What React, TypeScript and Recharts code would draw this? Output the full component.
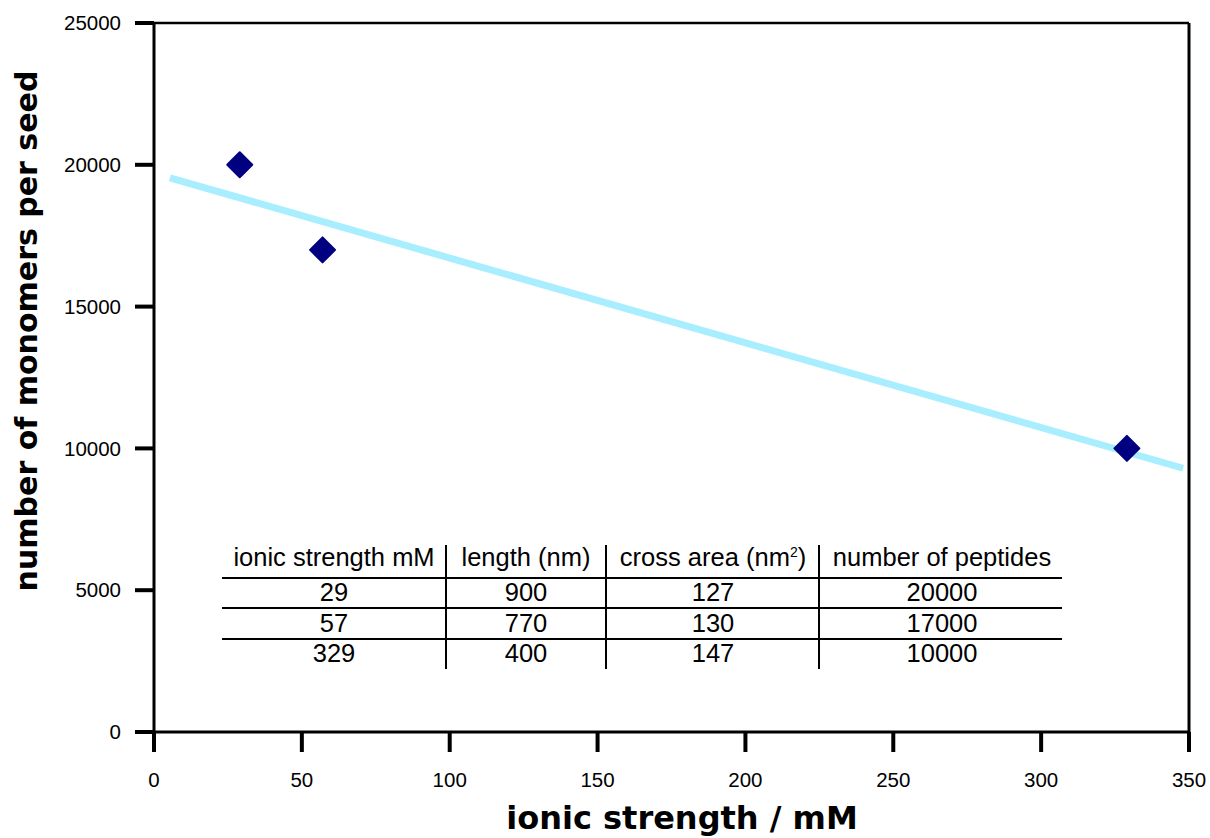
import React from "react";
import {
  ComposedChart,
  Scatter,
  XAxis,
  YAxis,
  ReferenceLine,
} from "recharts";

// ---- data ----
const ionicStrength = [29, 57, 329];
const monomersPerSeed = [20000, 17000, 10000];
const trendX = [5.4, 348];
const trendY = [19540, 9300];
const xTicks = [0, 50, 100, 150, 200, 250, 300, 350];
const yTicks = [0, 5000, 10000, 15000, 20000, 25000];

const tableHeaders = ["ionic strength mM", "length (nm)", "cross area (nm", "number of peptides"];
const tableIonic = ["29", "57", "329"];
const tableLength = ["900", "770", "400"];
const tableCross = ["127", "130", "147"];
const tablePeptides = ["20000", "17000", "10000"];

const xTitle = "ionic strength / mM";
const yTitle = "number of monomers per seed";

const points = ionicStrength.map((x, i) => ({ x, y: monomersPerSeed[i] }));

const NAVY = "#000080";
const CYAN = "#a8eefe";
const TICK_FONT = "'Liberation Sans', Arial, sans-serif";
const TITLE_FONT = "'DejaVu Sans', Verdana, sans-serif";

const Diamond = (props: any) => {
  const { cx, cy } = props;
  if (cx == null || cy == null) return null;
  const r = 12.5;
  const d = `M${cx},${cy - r} L${cx + r},${cy} L${cx},${cy + r} L${cx - r},${cy} Z`;
  return <path d={d} fill={NAVY} stroke={NAVY} strokeWidth={2} strokeLinejoin="round" />;
};

const W = 1210;
const H = 838;

const TableOverlay = () => {
  const left = 222;
  const right = 1062;
  const vLines = [446, 606, 819];
  const colCenters = [334, 526, 713, 942];
  const hLines = [578, 608, 639];
  const headerBaseline = 566;
  const rowBaselines = [601, 632, 662];
  const cols = [tableIonic, tableLength, tableCross, tablePeptides];
  const fs = 25.5;
  return (
    <g fontFamily={TICK_FONT} fontSize={fs} fill="#000">
      {hLines.map((y, i) => (
        <line key={"h" + i} x1={left} x2={right} y1={y} y2={y} stroke="#000" strokeWidth={2} />
      ))}
      {vLines.map((x, i) => (
        <line key={"v" + i} x1={x} x2={x} y1={545} y2={669} stroke="#000" strokeWidth={2} />
      ))}
      {tableHeaders.map((h, i) => (
        <text key={"t" + i} x={colCenters[i]} y={headerBaseline} textAnchor="middle">
          {i === 2 ? (
            <>
              {h}
              <tspan fontSize={14} dy={-9}>2</tspan>
              <tspan dy={9}>)</tspan>
            </>
          ) : (
            h
          )}
        </text>
      ))}
      {cols.map((col, c) =>
        col.map((v, r) => (
          <text key={`c${c}r${r}`} x={colCenters[c]} y={rowBaselines[r]} textAnchor="middle">
            {v}
          </text>
        ))
      )}
    </g>
  );
};

export default function App() {
  return (
    <div style={{ position: "absolute", left: 0, top: 0, width: W, height: H, background: "#fff" }}>
      <ComposedChart
        width={W}
        height={H}
        data={points}
        margin={{ top: 23, right: 21, bottom: 46, left: 54 }}
      >
        <XAxis
          dataKey="x"
          type="number"
          domain={[0, 350]}
          ticks={xTicks}
          allowDataOverflow
          height={60}
          axisLine={{ stroke: "#000", strokeWidth: 3 }}
          tickLine={{ stroke: "#000", strokeWidth: 4 }}
          tickSize={20}
          tickMargin={20}
          tick={{ fontSize: 20.5, fill: "#000", fontFamily: TICK_FONT }}
          interval={0}
        />
        <YAxis
          dataKey="y"
          type="number"
          domain={[0, 25000]}
          ticks={yTicks}
          allowDataOverflow
          width={100}
          axisLine={{ stroke: "#000", strokeWidth: 3 }}
          tickLine={{ stroke: "#000", strokeWidth: 4 }}
          tickSize={19}
          tickMargin={14}
          tick={{ fontSize: 20.5, fill: "#000", fontFamily: TICK_FONT }}
          interval={0}
        />
        <ReferenceLine y={25000} stroke="#000" strokeWidth={2.5} ifOverflow="visible" />
        <ReferenceLine x={350} stroke="#000" strokeWidth={3} ifOverflow="visible" />
        <ReferenceLine
          segment={[
            { x: trendX[0], y: trendY[0] },
            { x: trendX[1], y: trendY[1] },
          ]}
          stroke={CYAN}
          strokeWidth={7}
          ifOverflow="visible"
        />
        <Scatter data={points} dataKey="y" shape={<Diamond />} isAnimationActive={false} />
      </ComposedChart>
      <svg
        width={W}
        height={H}
        style={{ position: "absolute", left: 0, top: 0, pointerEvents: "none" }}
      >
        <TableOverlay />
        <text
          x={682}
          y={829}
          textAnchor="middle"
          fontFamily={TITLE_FONT}
          fontWeight="bold"
          fontSize={32}
          fill="#000"
        >
          {xTitle}
        </text>
        <text
          x={0}
          y={0}
          transform="translate(37,331) rotate(-90)"
          textAnchor="middle"
          fontFamily={TITLE_FONT}
          fontWeight="bold"
          fontSize={30}
          fill="#000"
        >
          {yTitle}
        </text>
      </svg>
    </div>
  );
}
